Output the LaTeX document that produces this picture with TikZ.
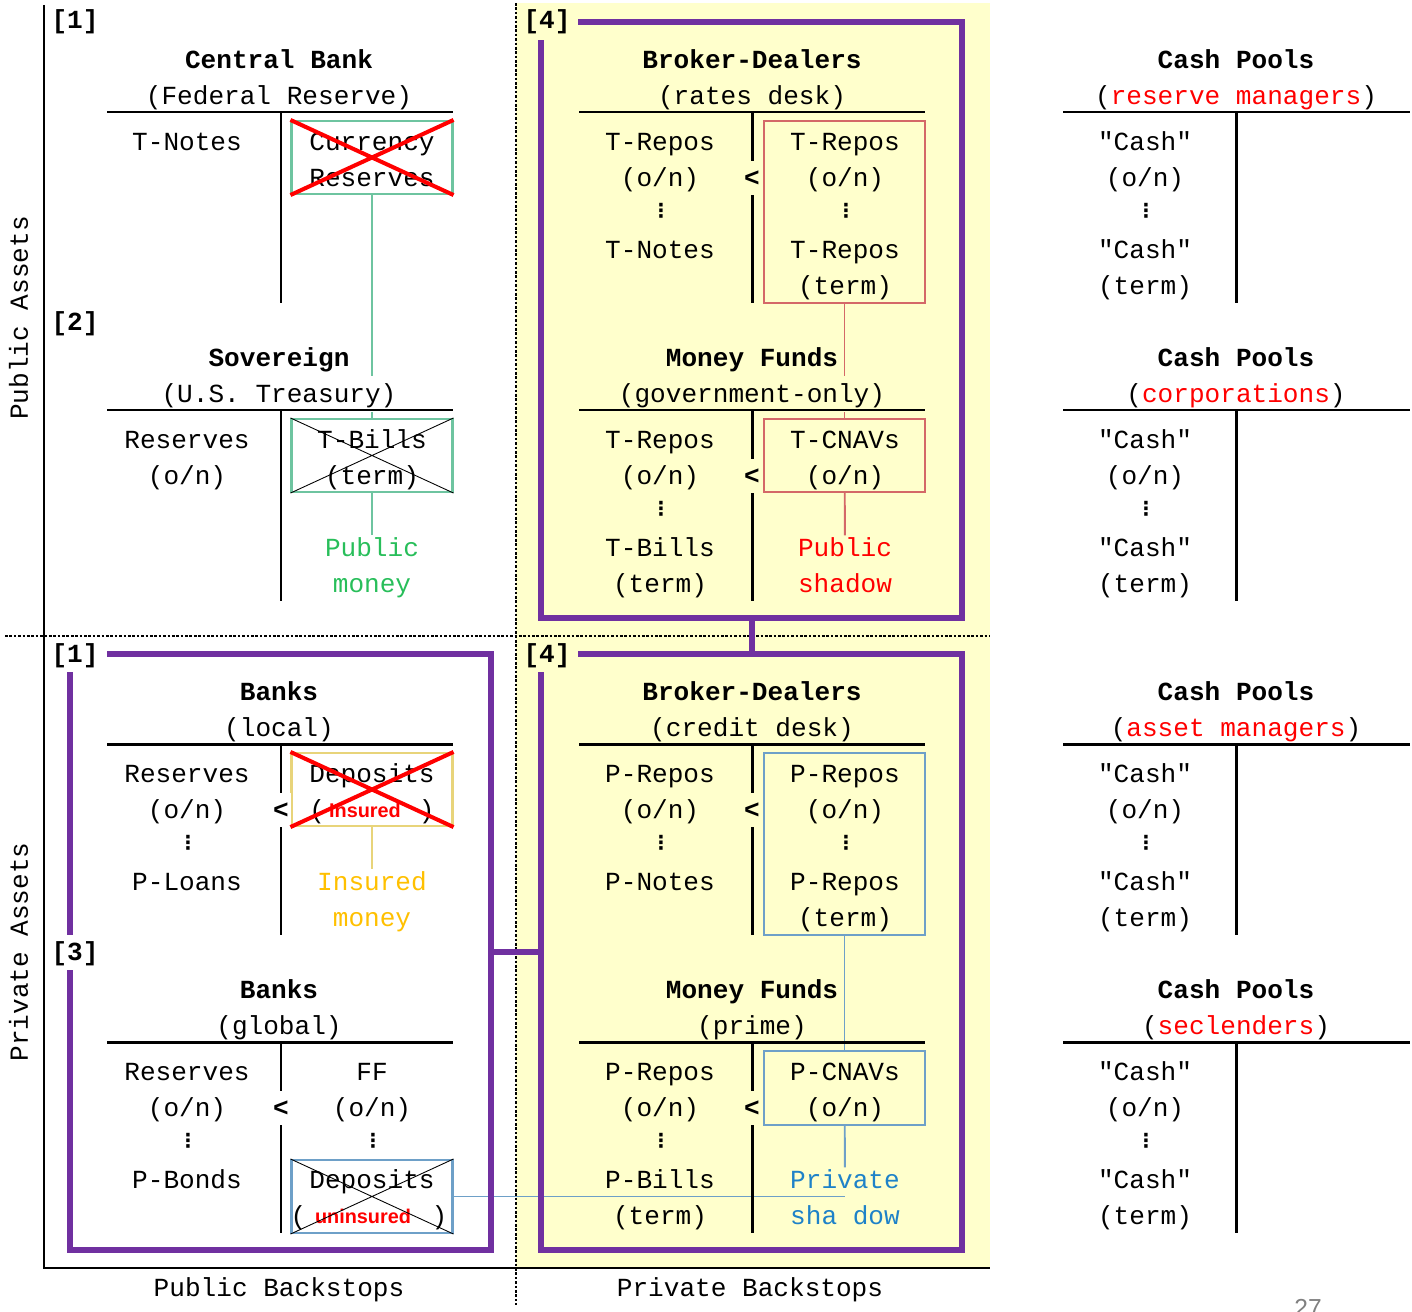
\documentclass[tikz,border=0pt]{standalone}
\usepackage{fontspec}
\usepackage{xcolor}
\usepackage{tikz}
\usetikzlibrary{calc}
\newfontfamily\monof{Liberation Mono}
\newfontfamily\sansf{Liberation Sans}
\newfontfamily\dotf{DejaVu Sans}
\definecolor{purp}{RGB}{112,48,160}
\definecolor{ybg}{RGB}{255,255,204}
\definecolor{gbord}{RGB}{110,196,160}
\definecolor{gtxt}{RGB}{40,190,90}
\definecolor{ybord}{RGB}{232,212,122}
\definecolor{ytxt}{RGB}{255,192,0}
\definecolor{rbord}{RGB}{212,104,104}
\definecolor{bbord}{RGB}{110,160,200}
\definecolor{btxt}{RGB}{30,130,200}
\tikzset{
  txt/.style={font=\monof\fontsize{14.85}{18}\selectfont, inner sep=0pt, text height=12.1pt, text depth=2pt},
  ttl/.style={txt, font=\monof\bfseries\fontsize{14.85}{18}\selectfont, fill=white, inner ysep=3pt, inner xsep=1pt},
  sub/.style={txt, fill=white, inner ysep=3pt, inner xsep=1pt},
  lab/.style={txt, font=\monof\bfseries\fontsize{14.85}{18}\selectfont},
  lt/.style={lab, fill=white, inner ysep=2.5pt, inner xsep=1pt},
  dts/.style={inner sep=0pt, font=\dotf\bfseries\fontsize{11}{11}\selectfont},
  ovl/.style={inner sep=0pt, text=red, font=\sansf\bfseries\fontsize{11.3}{13}\selectfont},
  tline/.style={line width=1.7pt},
  pframe/.style={purp, line width=3.4pt},
  sep/.style={line width=1.1pt, dash pattern=on 1.5pt off 1pt},
  acbox/.style={line width=1.2pt, minimum width=3.22cm, inner sep=0pt},
  gbox/.style={acbox, draw=gbord},
  ybox/.style={acbox, draw=ybord},
  rbox/.style={acbox, draw=rbord},
  bbox/.style={acbox, draw=bbord},
  xred/.style={red, line width=2.3pt},
  xblk/.style={black, line width=0.5pt}
}
\begin{document}
\begin{tikzpicture}[x=0.02cm,y=-0.02cm]
\useasboundingbox (0,0) rectangle (1412,1311);
  \fill[ybg] (516,3) rectangle (990,1268);

% boxes on the asset side
  \node[gbox, minimum height=1.46cm] (curr) at (372,157.5) {};
  \node[gbox, minimum height=1.46cm] (tbill) at (372,455.5) {};
  \node[ybox, minimum height=1.46cm] (dins) at (372,789.5) {};
  \node[bbox, minimum height=1.46cm] (dunins) at (372,1196.5) {};
  \node[rbox, minimum height=3.64cm] (trepo) at (844.5,212) {};
  \node[rbox, minimum height=1.46cm] (tcnav) at (844.5,455.5) {};
  \node[bbox, minimum height=3.64cm] (prepo) at (844.5,844) {};
  \node[bbox, minimum height=1.48cm] (pcnav) at (844.5,1088) {};

  \node[txt, text=gtxt] (pubm1) at (372,548) {Public};
  \node[txt, text=gtxt] (pubm2) at (372,584) {money};
  \node[txt, text=ytxt] (insm1) at (372,882) {Insured};
  \node[txt, text=ytxt] (insm2) at (372,918) {money};
  \node[txt, text=red] (pubsh1) at (845,548) {Public};
  \node[txt, text=red] (pubsh2) at (845,584) {shadow};
  \node[txt, text=btxt] (prsh1) at (845,1180) {Private};
  \node[txt, text=btxt] (prsh2) at (845,1216) {sha dow};

  \draw[gbord, line width=1.1pt] (curr) -- (tbill);
  \draw[gbord, line width=1.1pt] (tbill) -- (pubm1);
  \draw[ybord, line width=1.1pt] (dins) -- (insm1);
  \draw[rbord, line width=1.1pt] (trepo) -- (tcnav);
  \draw[rbord, line width=1.1pt] (tcnav) -- (pubsh1);
  \draw[bbord, line width=1.1pt] (prepo) -- (pcnav);
  \draw[bbord, line width=1.1pt] (pcnav) -- (prsh1);
  \draw[bbord, line width=1.1pt] (dunins.east) -- (dunins.east -| prsh1.south);

  \draw[sep] (516,3) -- (516,1305);
  \draw[sep] (5,636) -- (990,636);
  \draw[line width=1.5pt] (44,5) -- (44,1268) -- (990,1268);

% central bank / sovereign
  \node[ttl] (cb) at (279,60) {Central Bank};
  \node[sub] (cbs) at (279,96) {(Federal Reserve)};
  \node[ttl] (sov) at (279,358) {Sovereign};
  \node[sub] (sovs) at (279,394) {(U.S. Treasury)};
  \draw[tline] (107,112) -- (453,112);
  \draw[tline] (281,112) -- (281,303);
  \draw[tline] (107,410) -- (453,410);
  \draw[tline] (281,410) -- (281,601);
  \node[txt] (cb1) at (187,142) {T-Notes};
  \node[txt] (curr1) at (372,142) {Currency};
  \node[txt] (curr2) at (372,178) {Reserves};
  \node[txt] (sov1) at (187,440) {Reserves};
  \node[txt] (sov2) at (187,476) {(o/n)};
  \node[txt] (tbill1) at (372,440) {T-Bills};
  \node[txt] (tbill2) at (372,476) {(term)};

% banks
  \node[ttl] (bkl) at (279,692) {Banks};
  \node[sub] (bkls) at (279,728) {(local)};
  \node[ttl] (bkg) at (279,990) {Banks};
  \node[sub] (bkgs) at (279,1026) {(global)};
  \draw[tline] (107,744) -- (453,744);
  \draw[tline] (281,744) -- (281,935);
  \draw[tline] (107,1042) -- (453,1042);
  \draw[tline] (281,1042) -- (281,1233);
  \node[txt] (bkl1) at (187,774) {Reserves};
  \node[txt] (bkl2) at (187,810) {(o/n)};
  \node[dts] (bkl3) at (188,843) {⋮};
  \node[txt] (bkl4) at (187,882) {P-Loans};
  \node[lt] (bkllt) at (281,810) {<};
  \node[txt] (dins1) at (372,774) {Deposits};
  \node[txt] (dins2) at (372,810) {(\phantom{xxxxxx})};
  \node[txt] (bkg1) at (187,1072) {Reserves};
  \node[txt] (bkg2) at (187,1108) {(o/n)};
  \node[dts] (bkg3) at (188,1141) {⋮};
  \node[txt] (bkg4) at (187,1180) {P-Bonds};
  \node[lt] (bkglt) at (281,1108) {<};
  \node[txt] (ff1) at (372,1072) {FF};
  \node[txt] (ff2) at (372,1108) {(o/n)};
  \node[dts] (ff3) at (373,1141) {⋮};
  \node[txt] (dun1) at (372,1180) {Deposits};
  \node[txt] (dun2) at (369,1216) {(\phantom{xxxxxxxx})};

% dealers and funds
  \node[ttl, fill=ybg] (bdr) at (752,60) {Broker-Dealers};
  \node[sub, fill=ybg] (bdrs) at (752,96) {(rates desk)};
  \node[ttl, fill=ybg] (mfg) at (752,358) {Money Funds};
  \node[sub, fill=ybg] (mfgs) at (752,394) {(government-only)};
  \node[ttl, fill=ybg] (bdc) at (752,692) {Broker-Dealers};
  \node[sub, fill=ybg] (bdcs) at (752,728) {(credit desk)};
  \node[ttl, fill=ybg] (mfp) at (752,990) {Money Funds};
  \node[sub, fill=ybg] (mfps) at (752,1026) {(prime)};
  \draw[tline] (579,112) -- (925,112);
  \draw[tline] (752,112) -- (752,303);
  \draw[tline] (579,410) -- (925,410);
  \draw[tline] (752,410) -- (752,601);
  \draw[tline] (579,744) -- (925,744);
  \draw[tline] (752,744) -- (752,935);
  \draw[tline] (579,1042) -- (925,1042);
  \draw[tline] (752,1042) -- (752,1233);

  \node[txt] (bdr1) at (660,142) {T-Repos};
  \node[txt] (bdr2) at (660,178) {(o/n)};
  \node[dts] (bdr3) at (661,211) {⋮};
  \node[txt] (bdr4) at (660,250) {T-Notes};
  \node[lt, fill=ybg] (bdrlt) at (752,178) {<};
  \node[txt] (trepo1) at (845,142) {T-Repos};
  \node[txt] (trepo2) at (845,178) {(o/n)};
  \node[dts] (trepo3) at (846,211) {⋮};
  \node[txt] (trepo4) at (845,250) {T-Repos};
  \node[txt] (trepo5) at (845,286) {(term)};

  \node[txt] (mfg1) at (660,440) {T-Repos};
  \node[txt] (mfg2) at (660,476) {(o/n)};
  \node[dts] (mfg3) at (661,509) {⋮};
  \node[txt] (mfg4) at (660,548) {T-Bills};
  \node[txt] (mfg5) at (660,584) {(term)};
  \node[lt, fill=ybg] (mfglt) at (752,476) {<};
  \node[txt] (tcnav1) at (845,440) {T-CNAVs};
  \node[txt] (tcnav2) at (845,476) {(o/n)};

  \node[txt] (bdc1) at (660,774) {P-Repos};
  \node[txt] (bdc2) at (660,810) {(o/n)};
  \node[dts] (bdc3) at (661,843) {⋮};
  \node[txt] (bdc4) at (660,882) {P-Notes};
  \node[lt, fill=ybg] (bdclt) at (752,810) {<};
  \node[txt] (prepo1) at (845,774) {P-Repos};
  \node[txt] (prepo2) at (845,810) {(o/n)};
  \node[dts] (prepo3) at (846,843) {⋮};
  \node[txt] (prepo4) at (845,882) {P-Repos};
  \node[txt] (prepo5) at (845,918) {(term)};

  \node[txt] (mfp1) at (660,1072) {P-Repos};
  \node[txt] (mfp2) at (660,1108) {(o/n)};
  \node[dts] (mfp3) at (661,1141) {⋮};
  \node[txt] (mfp4) at (660,1180) {P-Bills};
  \node[txt] (mfp5) at (660,1216) {(term)};
  \node[lt, fill=ybg] (mfplt) at (752,1108) {<};
  \node[txt] (pcnav1) at (845,1072) {P-CNAVs};
  \node[txt] (pcnav2) at (845,1108) {(o/n)};

% cash pools
\foreach \y/\who/\n in {60/reserve managers/1, 358/corporations/2, 692/asset managers/3, 990/seclenders/4} {
  \node[ttl] (cp\n) at (1236,\y) {Cash Pools};
  \node[sub] (cps\n) at (1236,\y+36) {(\textcolor{red}{\who})};
  \draw[tline] (1063,\y+52) -- (1410,\y+52);
  \draw[tline] (1236,\y+52) -- (1236,\y+243);
  \node[txt] (cpa\n) at (1145,\y+82) {"Cash"};
  \node[txt] (cpb\n) at (1145,\y+118) {(o/n)};
  \node[dts] (cpc\n) at (1146,\y+151) {⋮};
  \node[txt] (cpd\n) at (1145,\y+190) {"Cash"};
  \node[txt] (cpe\n) at (1145,\y+226) {(term)};
}

% purple groups
  \draw[pframe] (578,22) -- (962,22) -- (962,618) -- (541,618) -- (541,40);
  \draw[pframe] (578,654) -- (962,654) -- (962,1250) -- (541,1250) -- (541,672);
  \draw[pframe] (107,654) -- (491,654) -- (491,1250) -- (70,1250) -- (70,970);
  \draw[pframe] (70,672) -- (70,935);
  \draw[pframe] (752,618) -- (752,654);
  \draw[pframe] (491,952) -- (541,952);

  \node[lab] (lb1) at (75,20) {[1]};
  \node[lab] (lb2) at (75,322) {[2]};
  \node[lab] (lb1b) at (75,654) {[1]};
  \node[lab] (lb3) at (75,952) {[3]};
  \node[lab] (lb4) at (547,20) {[4]};
  \node[lab] (lb4b) at (547,654) {[4]};

  \node[txt, rotate=90] (pubas) at (19,318) {Public Assets};
  \node[txt, rotate=90] (privas) at (19,952) {Private Assets};
  \node[txt] (pubbk) at (279,1288) {Public Backstops};
  \node[txt] (privbk) at (750,1288) {Private Backstops};
  \node[anchor=base, inner sep=0pt, text=gray, font=\sansf\fontsize{14}{16}\selectfont] (pgno) at (1308,1316) {27};

% crossed out
  \node[ovl] (ins) at (365,810) {Insured};
  \node[ovl] (unins) at (363,1216) {uninsured};
  \draw[xred] (curr.north west) -- (curr.south east) (curr.south west) -- (curr.north east);
  \draw[xred] (dins.north west) -- (dins.south east) (dins.south west) -- (dins.north east);
  \draw[xblk] (tbill.north west) -- (tbill.south east) (tbill.south west) -- (tbill.north east);
  \draw[xblk] (dunins.north west) -- (dunins.south east) (dunins.south west) -- (dunins.north east);
\end{tikzpicture}
\end{document}
